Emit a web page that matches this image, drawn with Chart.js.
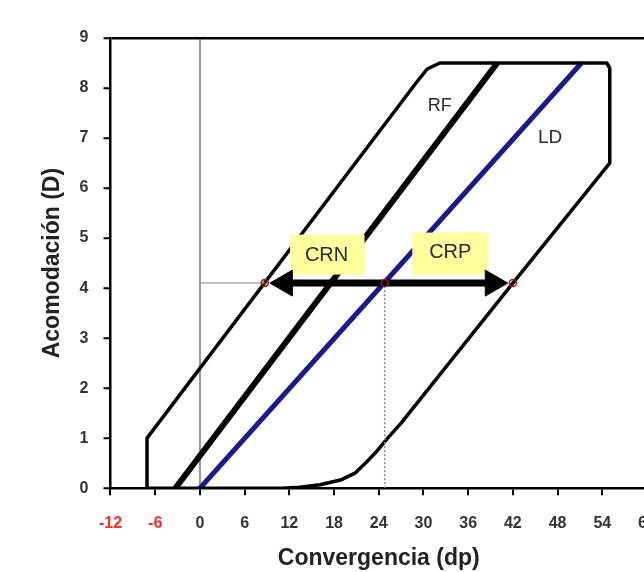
<!DOCTYPE html>
<html>
<head>
<meta charset="utf-8">
<script src="https://cdn.jsdelivr.net/npm/chart.js@4/dist/chart.umd.min.js"></script>
<style>
    html, body { margin: 0; padding: 0; background: #fff; overflow: hidden; }
    #wrap { width: 680px; height: 572px; }
</style>
</head>
<body>
<div id="wrap"><canvas id="c" width="680" height="572"></canvas></div>
<script>
// axis ticks
const xTicks = [-12, -6, 0, 6, 12, 18, 24, 30, 36, 42, 48, 54, 60];
const yTicks = [0, 1, 2, 3, 4, 5, 6, 7, 8, 9];
const redTicks = [-12, -6];

// outer zone (convergence vs accommodation)
const zoneX = [-7.1, -7.1, 29.0, 30.5, 32.2, 54.6, 55.0, 55.0, 42.0, 27.0, 25.2, 23.8, 22.4, 20.8, 19.0, 16.1, 13.4, 11.0, -6.8, -7.1];
const zoneY = [0, 1.0, 8.1, 8.38, 8.5, 8.5, 8.4, 6.5, 4.1, 1.3, 1.0, 0.75, 0.53, 0.3, 0.17, 0.07, 0.02, 0, 0, 0];

// RF line and LD (demand) line
const rfX = [-3.3, 39.9];
const rfY = [0, 8.5];
const ldX = [0, 51.2];
const ldY = [0, 8.5];

// CRN / CRP arrow at the working accommodation
const level = 4.1;
const arrowX = [11, 39.5];
const headX = [11.4, 39.3];
const headRot = [270, 90];
const markX = [8.7, 24.8, 42.0];
const guideX = [0, 8.7];
const dropX = 24.8;

const pts = (xs, ys) => xs.map((x, i) => ({ x: x, y: ys[i] }));
const flat = (xs, y) => xs.map((x) => ({ x: x, y: y }));

const FONT = '"Liberation Sans", Arial, sans-serif';

const notes = [
    { text: 'RF', x: 32.2, y: 7.63, size: 18 },
    { text: 'LD', x: 47.0, y: 7.0, size: 19 },
    { text: 'CRN', x: 17.0, y: 4.65, size: 20, box: [12.1, 22.1, 4.27, 5.07] },
    { text: 'CRP', x: 33.6, y: 4.71, size: 20, box: [28.5, 38.7, 4.27, 5.11] }
];

// boxes and labels go over the lines but under the arrow
const notesPlugin = {
    id: 'notes',
    afterDatasetDraw(chart, args) {
        if (args.index !== 3) return;
        const ctx = chart.ctx;
        const sx = chart.scales.x, sy = chart.scales.y;
        ctx.save();
        notes.forEach((n) => {
            if (n.box) {
                const l = sx.getPixelForValue(n.box[0]), r = sx.getPixelForValue(n.box[1]);
                const b = sy.getPixelForValue(n.box[2]), t = sy.getPixelForValue(n.box[3]);
                ctx.fillStyle = '#ffff9e';
                ctx.fillRect(l, t, r - l, b - t);
            }
            ctx.fillStyle = '#2a2a2a';
            ctx.font = n.size + 'px ' + FONT;
            ctx.textAlign = 'center';
            ctx.textBaseline = 'middle';
            ctx.fillText(n.text, sx.getPixelForValue(n.x), sy.getPixelForValue(n.y));
        });
        ctx.restore();
    }
};

const line = (data, color, width, extra) => Object.assign({
    data: data,
    showLine: true,
    borderColor: color,
    borderWidth: width,
    pointRadius: 0,
    tension: 0,
    fill: false
}, extra || {});

const data = {
    datasets: [
        line(flat(markX, level), '#a01818', 1.5, {
            showLine: false, pointRadius: 3.5, pointBorderColor: '#a01818',
            pointBackgroundColor: 'rgba(0,0,0,0)', pointBorderWidth: 1.5
        }),
        line(flat(headX, level), '#000', 1, {
            showLine: false, pointStyle: 'triangle', pointRadius: 15,
            pointRotation: headRot, pointBackgroundColor: '#000', pointBorderColor: '#000'
        }),
        line(flat(arrowX, level), '#000', 7),
        line(flat(guideX, level), '#aaa', 1.5),
        line(pts([dropX, dropX], [0, level]), '#888', 1.5, { borderDash: [2, 2] }),
        line(pts(zoneX, zoneY), '#000', 3.5, { borderJoinStyle: 'round' }),
        line(pts(rfX, rfY), '#000', 6),
        line(pts(ldX, ldY), '#1a1a8c', 5)
    ]
};

const config = {
    type: 'scatter',
    data,
    plugins: [notesPlugin],
    options: {
        responsive: false,
        animation: false,
        events: [],
        layout: { padding: { top: 38, right: 33, bottom: 0, left: 0 } },
        plugins: {
            legend: { display: false },
            tooltip: { enabled: false }
        },
        scales: {
            x: {
                type: 'linear',
                min: -12,
                max: 60,
                afterBuildTicks: (scale) => { scale.ticks = xTicks.map((v) => ({ value: v })); },
                ticks: {
                    padding: 19,
                    font: { family: FONT, size: 16, weight: 'bold' },
                    color: (c) => redTicks.includes(c.tick.value) ? '#ff2a2a' : '#333'
                },
                grid: {
                    color: (c) => c.tick && c.tick.value === 0 ? '#999' : 'rgba(0,0,0,0)',
                    lineWidth: 2,
                    tickColor: '#000',
                    tickLength: 7,
                    tickWidth: 2
                },
                border: { color: '#000', width: 2.5 },
                title: {
                    display: true,
                    text: 'Convergencia (dp)',
                    color: '#222',
                    font: { family: FONT, size: 23, weight: 'bold' },
                    padding: { top: -8, bottom: 0 }
                }
            },
            y: {
                type: 'linear',
                min: 0,
                max: 9,
                afterBuildTicks: (scale) => { scale.ticks = yTicks.map((v) => ({ value: v })); },
                ticks: {
                    padding: 15,
                    font: { family: FONT, size: 16, weight: 'bold' },
                    color: '#333'
                },
                grid: {
                    color: (c) => c.tick && c.tick.value === 9 ? '#000' : 'rgba(0,0,0,0)',
                    lineWidth: 2.5,
                    tickColor: '#000',
                    tickLength: 7,
                    tickWidth: 2
                },
                border: { color: '#000', width: 2.5 },
                title: {
                    display: true,
                    text: 'Acomodación (D)',
                    color: '#222',
                    font: { family: FONT, size: 23, weight: 'bold' },
                    padding: { top: 39, bottom: -2 }
                }
            }
        }
    }
};

const chart = new Chart(document.getElementById('c'), config);
</script>
</body>
</html>
